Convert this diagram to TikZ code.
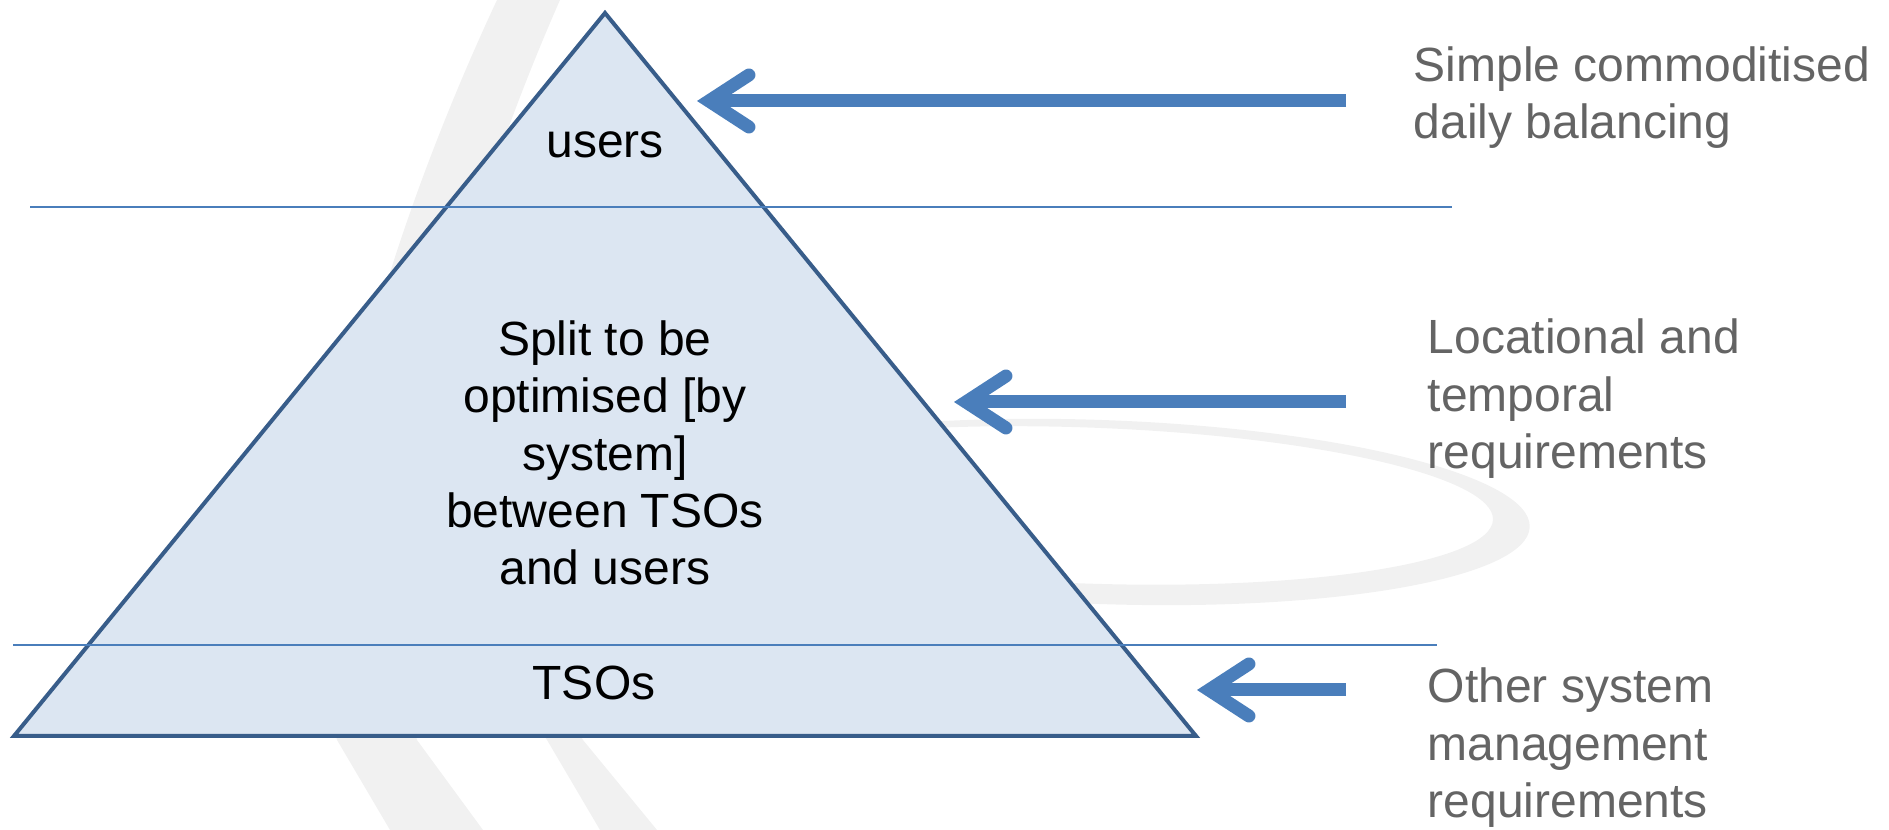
\documentclass[tikz,border=0pt]{standalone}
\usepackage{fontspec}
\setmainfont{Liberation Sans}
\usetikzlibrary{arrows.meta,positioning}

\definecolor{pyrfill}{HTML}{DCE6F2}
\definecolor{pyredge}{HTML}{385D8A}
\definecolor{lineblue}{HTML}{4A7EBB}
\definecolor{notegray}{HTML}{646464}
\definecolor{markgray}{HTML}{F1F1F1}

\tikzset{
  pyramid/.style={draw=pyredge, fill=pyrfill, line width=1pt, line join=miter},
  divider/.style={draw=lineblue, line width=0.5pt},
  feed/.style={draw=lineblue, line width=3.25pt,
    -{Straight Barb[length=10pt, width=13pt, line cap=round, line join=miter]}},
  tier/.style={font=\fontsize{12}{14.35}\selectfont, align=center, inner sep=0pt},
  note/.style={font=\fontsize{12}{14.4}\selectfont, text=notegray, align=left,
    inner sep=0pt, anchor=base west},
  watermark/.style={fill=markgray, draw=none},
}

\begin{document}
\begin{tikzpicture}[x=0.25pt, y=-0.25pt]
    \useasboundingbox (0,0) rectangle (1889,830);

    % faint logo behind everything
    \fill[watermark] (497,0) .. controls (380,250) and (290,560) .. (337,740) -- (390,830)
        -- (483,830) -- (417,740) .. controls (370,560) and (450,250) .. (560,0) -- cycle;
    \fill[watermark] (455,600) -- (547,740) -- (600,830) -- (657,830) -- (583,740)
        .. controls (540,660) .. (475,600) -- cycle;
    \fill[watermark, even odd rule, rotate around={-2:(1100,512)}]
        (1100,512) ellipse (430 and 92) (1085,506) ellipse (408 and 78);

    % the pyramid and its two dividing lines
    \coordinate (apex) at (605,13);
    \coordinate (baseL) at (14,736);
    \coordinate (baseR) at (1196,736);
    \filldraw[pyramid] (apex) -- (baseR) -- (baseL) -- cycle;

    \coordinate (upperL) at (30,207);
    \coordinate (upperR) at (1452,207);
    \coordinate (lowerL) at (13,645);
    \coordinate (lowerR) at (1437,645);
    \draw[divider] (upperL) -- (upperR);
    \draw[divider] (lowerL) -- (lowerR);

    % tiers (base = last line)
    \node[tier, anchor=base] (users) at (605,158) {users};
    \node[tier, anchor=base] (shared) at (605,585)
        {Split to be\\optimised [by\\system]\\between TSOs\\and users};
    \node[tier, anchor=base] (tsos) at (594,700) {TSOs};

    % requirements on the right
    \node[note] (simple) at (1413,139) {Simple commoditised\\daily balancing};
    \node[note] (locational) at (1427,469) {Locational and\\temporal\\requirements};
    \node[note] (other) at (1427,818) {Other system\\management\\requirements};

    % arrows pointing into the pyramid
    \coordinate (simpleFrom) at (1346,101);
    \coordinate (simpleTo) at (697,101);
    \coordinate (locFrom) at (1346,402);
    \coordinate (locTo) at (954,402);
    \coordinate (otherFrom) at (1346,690);
    \coordinate (otherTo) at (1197,690);
    \draw[feed] (simpleFrom) -- (simpleTo);
    \draw[feed] (locFrom) -- (locTo);
    \draw[feed] (otherFrom) -- (otherTo);
\end{tikzpicture}
\end{document}
